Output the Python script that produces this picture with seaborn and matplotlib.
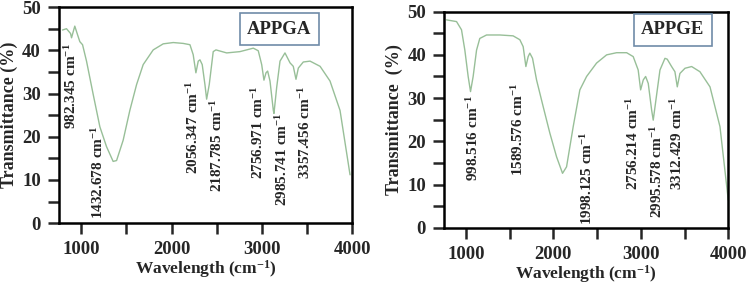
import numpy as np
import pandas as pd
import seaborn as sns
import matplotlib.pyplot as plt
from matplotlib.ticker import MultipleLocator

# ---- data ----
appga_wn = [791, 835, 880, 891, 927, 953, 983, 1013, 1057, 1130, 1205, 1279, 1352, 1390,
            1463, 1537, 1612, 1685, 1796, 1907, 2018, 2128, 2203, 2239, 2269, 2295, 2314,
            2339, 2369, 2388, 2417, 2461, 2491, 2610, 2757, 2905, 2960, 2998, 3023, 3046,
            3064, 3090, 3127, 3134, 3164, 3201, 3256, 3312, 3348, 3378, 3404, 3459, 3534,
            3645, 3755, 3866, 3977]
appga_t = [44.7, 45.0, 43.9, 42.9, 45.6, 43.9, 42.0, 41.3, 37.5, 29.9, 22.3, 17.7, 14.3, 14.5,
           19.2, 26.1, 32.1, 36.7, 40.1, 41.5, 41.8, 41.6, 41.3, 39.0, 34.8, 37.5, 37.8,
           36.7, 32.1, 28.7, 32.1, 39.7, 40.1, 39.4, 39.7, 40.5, 39.9, 36.7, 33.1, 34.8,
           35.2, 32.9, 26.1, 25.4, 31.4, 37.5, 39.4, 37.1, 36.3, 33.3, 35.9, 37.3, 37.5,
           36.3, 32.9, 26.1, 11.2]

appge_wn = [777, 892, 949, 987, 1025, 1052, 1082, 1121, 1158, 1235, 1387, 1539, 1616, 1654,
            1685, 1711, 1730, 1761, 1807, 1883, 1959, 2036, 2104, 2150, 2226, 2302, 2379,
            2493, 2608, 2722, 2837, 2912, 2969, 2997, 3027, 3054, 3084, 3123, 3141, 3172,
            3218, 3275, 3301, 3351, 3389, 3416, 3446, 3504, 3580, 3675, 3790, 3904, 3999]
appge_t = [48.1, 47.7, 45.8, 41.1, 35.0, 31.5, 35.0, 41.1, 43.8, 44.6, 44.6, 44.4, 43.5, 41.9,
           37.3, 39.6, 40.4, 39.2, 34.2, 28.0, 21.9, 16.4, 12.6, 14.1, 23.4, 31.9, 35.0,
           38.1, 40.0, 40.5, 40.5, 39.6, 36.5, 31.9, 34.2, 35.0, 33.4, 27.2, 24.9, 29.6,
           36.5, 39.2, 39.0, 37.3, 36.1, 32.6, 35.7, 36.9, 37.3, 36.1, 32.6, 23.4, 6.4]

# peak labels: text, x position, top of text (y)
appga_labels = ['982.345', '1432.678', '2056.347', '2187.785', '2756.971', '2985.741', '3357.456']
appga_lx = [891, 1183, 2236, 2502, 2957, 3223, 3478]
appga_ly = [41.6, 22.6, 32.9, 28.8, 31.8, 25.6, 31.8]

appge_labels = ['998.516', '1589.576', '1998.125', '2756.214', '2995.578', '3312.429']
appge_lx = [1078, 1593, 2380, 2909, 3184, 3413]
appge_ly = [30.7, 33.5, 22.2, 30.3, 23.8, 30.3]

sns.set_style('ticks')
plt.rcParams['font.family'] = ['Liberation Serif', 'DejaVu Serif']
plt.rcParams['font.weight'] = 'bold'
plt.rcParams['mathtext.fontset'] = 'custom'
plt.rcParams['mathtext.rm'] = 'Liberation Serif:bold'
plt.rcParams['mathtext.it'] = 'Liberation Serif:bold'
plt.rcParams['mathtext.bf'] = 'Liberation Serif:bold'
plt.rcParams['mathtext.default'] = 'rm'

line_col = '#98bf98'
fig = plt.figure(figsize=(7.54, 2.84), dpi=100)

panels = [
    ([0.078, 0.214, 0.389, 0.761], appga_wn, appga_t, appga_labels, appga_lx, appga_ly,
     'APPGA', 3195, 44.9, 'Transmittance (%)'),
    ([0.589, 0.198, 0.377, 0.761], appge_wn, appge_t, appge_labels, appge_lx, appge_ly,
     'APPGE', 3366, 45.8, 'Transmittance  (%)'),
]

for rect, wn, tr, labs, lx, ly, name, bx, by, ylab in panels:
    ax = fig.add_axes(rect)
    df = pd.DataFrame({'wn': wn, 't': tr})
    sns.lineplot(data=df, x='wn', y='t', ax=ax, color=line_col, lw=1.0)
    ax.set_xlim(750, 4000)
    ax.set_ylim(0, 50)
    ax.xaxis.set_major_locator(MultipleLocator(1000))
    ax.xaxis.set_minor_locator(MultipleLocator(500))
    ax.yaxis.set_major_locator(MultipleLocator(10))
    ax.yaxis.set_minor_locator(MultipleLocator(5))
    ax.tick_params(which='both', direction='out', length=8, width=1.8, labelsize=13.5, pad=5)
    for s in ax.spines.values():
        s.set_linewidth(1.8)
        s.set_color('black')
    ax.set_xlabel('Wavelength (cm$^{-1}$)', fontsize=12.5, fontweight='bold', labelpad=0)
    ax.set_ylabel(ylab, fontsize=13, fontweight='bold', labelpad=3)
    for lab in ax.get_xticklabels() + ax.get_yticklabels():
        lab.set_fontweight('bold')
    for t, x, y in zip(labs, lx, ly):
        ax.text(x, y, t + ' cm$^{-1}$', rotation=90, ha='center', va='top',
                fontsize=11, fontweight='bold')
    ax.text(bx, by, name, ha='center', va='center', fontsize=13.5, fontweight='bold',
            bbox=dict(boxstyle='square,pad=0.4', fc='white', ec='#6f8ba8', lw=1.2))

fig.savefig('out.png', dpi=100)
